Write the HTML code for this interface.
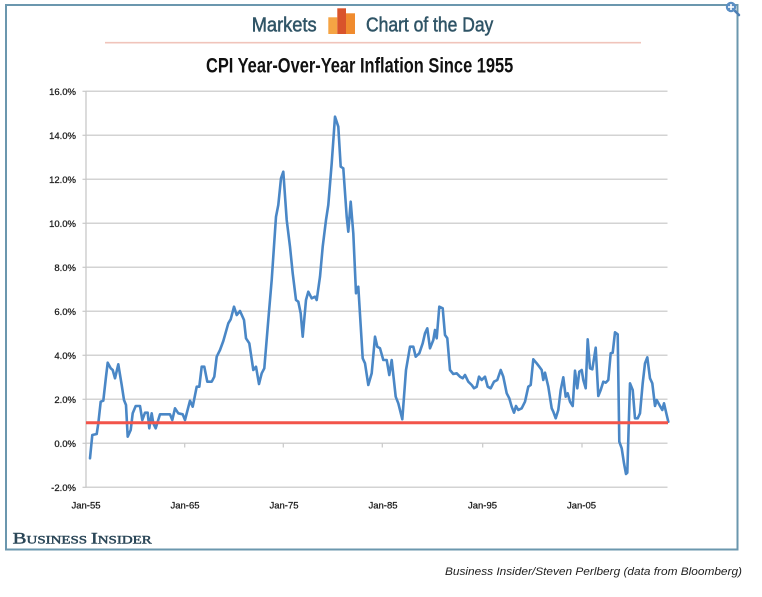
<!DOCTYPE html>
<html>
<head>
<meta charset="utf-8">
<style>
  html, body { margin:0; padding:0; background:#ffffff; }
  body { width:762px; height:597px; overflow:hidden; }
  svg { display:block; }
</style>
</head>
<body>
<svg width="762" height="597" viewBox="0 0 762 597" xmlns="http://www.w3.org/2000/svg">
  <rect x="0" y="0" width="762" height="597" fill="#ffffff"/>
  <!-- outer frame -->
  <rect x="6" y="5" width="731.5" height="544.5" fill="#ffffff" stroke="#6b97ae" stroke-width="2"/>
  <!-- magnifier icon -->
  <line x1="734" y1="10" x2="739" y2="15" stroke="#4d7fb3" stroke-width="2.5" stroke-linecap="round"/>
  <circle cx="731" cy="7" r="5.2" fill="#5b8fc4"/>
  <line x1="728" y1="7" x2="734" y2="7" stroke="#ffffff" stroke-width="1.6"/>
  <line x1="731" y1="4" x2="731" y2="10" stroke="#ffffff" stroke-width="1.6"/>

  <!-- header -->
  <text x="251.7" y="31.7" font-family="Liberation Sans, sans-serif" font-size="20" fill="#2f5466" stroke="#2f5466" stroke-width="0.5" textLength="65" lengthAdjust="spacingAndGlyphs">Markets</text>
  <rect x="328.3" y="17.3" width="9" height="16.7" fill="#f5a444"/>
  <rect x="337.3" y="8.3" width="8.7" height="25.7" fill="#d9532b"/>
  <rect x="346" y="13.3" width="9" height="20.7" fill="#f08b2e"/>
  <text x="366" y="31.7" font-family="Liberation Sans, sans-serif" font-size="20" fill="#2f5466" stroke="#2f5466" stroke-width="0.5" textLength="127.3" lengthAdjust="spacingAndGlyphs">Chart of the Day</text>
  <line x1="105" y1="42.7" x2="641" y2="42.7" stroke="#f0c4bb" stroke-width="1.6"/>

  <!-- title -->
  <text x="206" y="72.7" font-family="Liberation Sans, sans-serif" font-size="21" font-weight="bold" fill="#111111" textLength="307.3" lengthAdjust="spacingAndGlyphs">CPI Year-Over-Year Inflation Since 1955</text>

  <!-- gridlines -->
  <g stroke="#d3d3d3" stroke-width="1.5">
    <line x1="86" y1="91.3" x2="667.5" y2="91.3"/>
    <line x1="86" y1="135.3" x2="667.5" y2="135.3"/>
    <line x1="86" y1="179.3" x2="667.5" y2="179.3"/>
    <line x1="86" y1="223.3" x2="667.5" y2="223.3"/>
    <line x1="86" y1="267.3" x2="667.5" y2="267.3"/>
    <line x1="86" y1="311.3" x2="667.5" y2="311.3"/>
    <line x1="86" y1="355.3" x2="667.5" y2="355.3"/>
    <line x1="86" y1="399.3" x2="667.5" y2="399.3"/>
    <line x1="86" y1="443.3" x2="667.5" y2="443.3"/>
    <line x1="86" y1="487.3" x2="667.5" y2="487.3"/>
  </g>
  <!-- y axis -->
  <line x1="86" y1="91" x2="86" y2="487.5" stroke="#c8c8c8" stroke-width="1.3"/>
  <g stroke="#c8c8c8" stroke-width="1.2">
    <line x1="82.5" y1="91.3" x2="86" y2="91.3"/>
    <line x1="82.5" y1="135.3" x2="86" y2="135.3"/>
    <line x1="82.5" y1="179.3" x2="86" y2="179.3"/>
    <line x1="82.5" y1="223.3" x2="86" y2="223.3"/>
    <line x1="82.5" y1="267.3" x2="86" y2="267.3"/>
    <line x1="82.5" y1="311.3" x2="86" y2="311.3"/>
    <line x1="82.5" y1="355.3" x2="86" y2="355.3"/>
    <line x1="82.5" y1="399.3" x2="86" y2="399.3"/>
    <line x1="82.5" y1="443.3" x2="86" y2="443.3"/>
    <line x1="82.5" y1="487.3" x2="86" y2="487.3"/>
    <!-- x ticks on 0 axis -->
    <line x1="184.7" y1="443.3" x2="184.7" y2="447.5"/>
    <line x1="283.3" y1="443.3" x2="283.3" y2="447.5"/>
    <line x1="382.3" y1="443.3" x2="382.3" y2="447.5"/>
    <line x1="482.7" y1="443.3" x2="482.7" y2="447.5"/>
    <line x1="582" y1="443.3" x2="582" y2="447.5"/>
  </g>
  <g font-family="Liberation Sans, sans-serif" font-size="9.5" fill="#1a1a1a" stroke="#1a1a1a" stroke-width="0.25" text-anchor="end">
    <text x="76" y="94.8">16.0%</text>
    <text x="76" y="138.8">14.0%</text>
    <text x="76" y="182.8">12.0%</text>
    <text x="76" y="226.8">10.0%</text>
    <text x="76" y="270.8">8.0%</text>
    <text x="76" y="314.8">6.0%</text>
    <text x="76" y="358.8">4.0%</text>
    <text x="76" y="402.8">2.0%</text>
    <text x="76" y="446.8">0.0%</text>
    <text x="76" y="490.8">-2.0%</text>
  </g>
  <g font-family="Liberation Sans, sans-serif" font-size="9.5" fill="#1a1a1a" stroke="#1a1a1a" stroke-width="0.25" text-anchor="middle">
    <text x="86" y="508.5">Jan-55</text>
    <text x="185" y="508.5">Jan-65</text>
    <text x="284" y="508.5">Jan-75</text>
    <text x="383" y="508.5">Jan-85</text>
    <text x="482.5" y="508.5">Jan-95</text>
    <text x="581.5" y="508.5">Jan-05</text>
  </g>

  <!-- series -->
  <polyline fill="none" stroke="#4a87c6" stroke-width="2.6" stroke-linejoin="round" stroke-linecap="round" points="
90,458.3 92.3,435 96.7,434 98.3,423.3 100.7,401.7 103.3,400.7 106,376.7 107.7,362.7 110.7,368.3 112.7,370 115,378.3 118.3,364.3 121.7,385 124,400 126,405 127.7,436.7 130.7,430 132.7,413.3 135.7,406 140,406 142.3,420 145,412.7 147.7,412.7 149.3,428.3 151.7,413.3 153.3,423.3 155.7,428.3 157.7,421.7 160,414.3 170,414.3 172.3,420 175,408.3 178.3,413.3 182.7,414.3 185,420 190,400.7 192.7,406.7 196.7,386.7 199.3,386.7 201.7,366.7 204.3,366.7 207.3,381.7 211.7,381.7 214.3,376.7 216.7,356.7 220,350 223.3,341 228.3,323.3 230.7,319.3 234,306.7 236.7,315 240,311 244,320 246,338.3 249.3,343.3 253.3,370 256,366.7 259,384 261.7,373.3 264.3,368.3 268.3,320 271.7,280 276,216.7 278.3,205 281,178.3 283.3,171.7 286.7,220 290,246.7 292.7,273.3 296,300 298.3,301.7 300.7,313.3 302.7,336.7 306,300 308.3,291.7 311.7,298.3 315,296.7 316.7,300 320,276.7 322.7,246.7 326,220 328.3,205 331.7,163.3 335,116.7 338.3,126.7 340.7,166.7 343.3,168.3 346.7,216.7 348.3,231.7 350.7,201.7 353.3,233.3 356,293.3 358.3,286.7 362.7,358.3 365,363.3 368.3,385 371.7,373.3 375,336.7 377.3,346.7 380,348.3 383.3,360 386.7,360 389.3,375 391.7,360 395.7,396.7 398.3,403.3 402.3,419.3 406,370 410,346.7 413.3,346.7 415.7,356.7 419.3,353.3 422.7,343.3 425,333.3 427.3,328.3 430,348.3 433.3,340 435,330 436.7,338.3 439.3,306.7 442.7,308.3 445,335 447.3,338.3 450,370 453.3,374 456.7,373.3 460,376.7 462.7,378.3 465,375 468.3,381.7 471.7,385 474,388.3 476.7,386.7 479,376.7 481.7,380 485,376.7 487.7,386.7 490.7,388.3 494,381.7 497.3,380 500.7,370 503.3,376.7 506.7,393.3 509.3,398.3 511.7,406.7 514,412.7 516,406 518.3,410 521.7,408.3 525,401.7 528.3,386.7 530.7,385 533.3,359.3 536.7,363.3 539.3,366.7 541.7,370 543.3,380 545,372.7 548.3,386.7 551.7,408.3 553.3,411.7 555.7,418.3 558.3,410 560.7,390 563.3,377.3 565.7,396.7 567.7,393.3 570,401.7 572.7,406 575,370.7 577.3,388.3 579.3,371.7 581.7,370 583.3,380 585.7,388.3 587.7,339.3 590,368.3 592.3,369.3 595.7,347.7 598.3,396 600.7,390 603.3,381.7 605.7,382.7 608.3,380 610.7,353.3 612.7,352.7 615,332.3 617.7,334.3 619.3,441.7 621.7,448.3 624,463.3 626,474 627.3,472.7 630,383.3 632.7,390 635,418.3 637.7,418.3 640,413.3 642.7,383.3 645,363.3 647.3,357.3 650,378.3 652.3,383.3 655,406 656.7,400 660,406 662.3,410 664,403.3 666.7,415 668.3,421.7"/>

  <!-- red reference line -->
  <line x1="86" y1="422.7" x2="668" y2="422.7" stroke="#f2544a" stroke-width="3"/>

  <!-- Business Insider logo -->
  <text x="12.7" y="543.3" font-family="Liberation Serif, serif" fill="#2a4657" stroke="#2a4657" stroke-width="0.45" textLength="139" lengthAdjust="spacingAndGlyphs"><tspan font-size="16">B</tspan><tspan font-size="11.5">USINESS </tspan><tspan font-size="16">I</tspan><tspan font-size="11.5">NSIDER</tspan></text>

  <!-- caption -->
  <text x="445" y="575" font-family="Liberation Sans, sans-serif" font-size="11" font-style="italic" fill="#222222" textLength="297" lengthAdjust="spacingAndGlyphs">Business Insider/Steven Perlberg (data from Bloomberg)</text>
</svg>
</body>
</html>
